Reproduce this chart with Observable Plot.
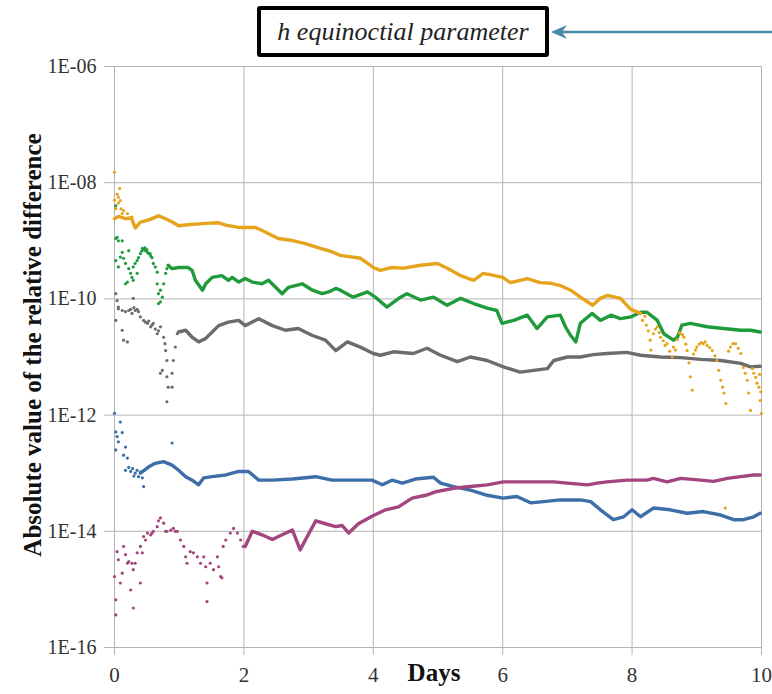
<!DOCTYPE html>
<html>
<head>
<meta charset="utf-8">
<script src="https://cdn.jsdelivr.net/npm/d3@7"></script>
<script src="https://cdn.jsdelivr.net/npm/@observablehq/plot@0.6"></script>
<style>
  body { margin: 0; background: #fff; }
  #wrap { position: relative; width: 772px; height: 694px; overflow: hidden; }
  #title {
    position: absolute; left: 257px; top: 6px; width: 292px; height: 51px;
    box-sizing: border-box; border: 4.5px solid #000; border-radius: 3px;
    background: #fff; color: #222;
    font: italic 26px "Liberation Serif", serif;
    display: flex; align-items: center; justify-content: center;
  }
  #pointer { position: absolute; left: 0; top: 0; }
</style>
</head>
<body>
<div id="wrap">
  <div id="chart"></div>
  <div id="title">h equinoctial parameter</div>
  <svg id="pointer" width="772" height="60"></svg>
</div>
<script>
// Each point is [day, log10 of the absolute relative difference].
// "Track" points trace the dense, steady part of a series; "scatter" points are the noisy samples.

const seriesNames = ["series 1", "series 2", "series 3", "series 4", "series 5"];
const seriesColors = ["#3d6ea8", "#a3457e", "#6c6c6c", "#1f9b3c", "#e6a41c"];

const dayTicks = [0, 2, 4, 6, 8, 10];
const decadeTicks = [1e-16, 1e-14, 1e-12, 1e-10, 1e-8, 1e-6];

const yellowTrack = [
  [0.00,-8.62],[0.06,-8.58],[0.17,-8.62],[0.26,-8.60],[0.32,-8.78],[0.40,-8.68],[0.53,-8.64],
  [0.68,-8.57],[0.79,-8.62],[0.90,-8.68],[0.99,-8.74],[1.17,-8.72],[1.41,-8.70],[1.61,-8.69],
  [1.72,-8.73],[1.92,-8.77],[2.18,-8.77],[2.33,-8.85],[2.53,-8.96],[2.72,-8.99],[2.95,-9.05],
  [3.18,-9.13],[3.34,-9.18],[3.49,-9.25],[3.80,-9.30],[3.93,-9.40],[4.00,-9.46],[4.11,-9.51],
  [4.27,-9.46],[4.47,-9.47],[4.73,-9.42],[4.99,-9.39],[5.16,-9.48],[5.35,-9.60],[5.55,-9.68],
  [5.70,-9.56],[5.84,-9.59],[6.00,-9.63],[6.12,-9.72],[6.27,-9.68],[6.38,-9.65],[6.58,-9.72],
  [6.74,-9.73],[6.89,-9.77],[7.05,-9.85],[7.20,-9.97],[7.39,-10.11],[7.51,-9.99],[7.62,-9.94],
  [7.82,-9.99],[7.98,-10.18],[8.13,-10.25]
];
const yellowScatter = [
  [0.00,-7.82],[0.00,-8.30],[0.02,-8.45],[0.04,-8.20],[0.06,-8.35],[0.08,-8.10],[0.10,-8.45],
  [0.06,-8.25],[0.09,-8.31],[0.04,-8.59],[0.12,-8.53],[0.20,-8.53],[0.27,-8.59],[0.14,-8.48],
  [8.16,-10.37],[8.20,-10.30],[8.22,-10.45],[8.25,-10.55],[8.28,-10.71],[8.29,-10.88],[8.33,-10.60],
  [8.36,-10.52],[8.39,-10.48],[8.42,-10.58],[8.44,-10.66],[8.48,-10.72],[8.51,-10.80],[8.54,-10.77],
  [8.58,-10.90],[8.62,-11.00],[8.64,-10.83],[8.67,-10.88],[8.70,-10.70],[8.73,-10.58],[8.75,-10.60],
  [8.78,-10.62],[8.80,-10.66],[8.83,-10.78],[8.85,-10.89],[8.88,-11.10],[8.90,-11.34],[8.93,-11.57],
  [8.95,-10.95],[8.98,-10.88],[9.00,-10.83],[9.04,-10.78],[9.07,-10.75],[9.10,-10.77],[9.13,-10.74],
  [9.16,-10.80],[9.20,-10.84],[9.24,-10.89],[9.28,-10.98],[9.31,-11.06],[9.34,-11.23],[9.37,-11.40],
  [9.40,-11.52],[9.42,-11.62],[9.45,-11.80],[9.49,-10.90],[9.52,-10.83],[9.56,-10.77],[9.60,-10.77],
  [9.64,-10.85],[9.68,-10.94],[9.72,-11.18],[9.75,-11.28],[9.78,-11.40],[9.80,-11.62],[9.83,-11.92],
  [9.86,-11.20],[9.88,-11.28],[9.91,-11.35],[9.93,-11.45],[9.96,-11.52],[9.98,-11.75],[10.00,-11.97],
  [9.97,-11.30],[9.99,-11.60],[9.44,-13.60]
];

const greenTrack = [
  [0.83,-9.42],[0.89,-9.48],[0.99,-9.46],[1.14,-9.46],[1.20,-9.51],[1.25,-9.68],[1.36,-9.85],
  [1.41,-9.74],[1.51,-9.63],[1.66,-9.60],[1.76,-9.68],[1.82,-9.63],[1.92,-9.71],[2.02,-9.65],
  [2.13,-9.71],[2.28,-9.74],[2.38,-9.68],[2.49,-9.80],[2.59,-9.91],[2.69,-9.80],[2.90,-9.74],
  [3.06,-9.85],[3.21,-9.91],[3.31,-9.88],[3.42,-9.82],[3.49,-9.85],[3.69,-9.97],[3.91,-9.88],
  [4.03,-9.97],[4.21,-10.14],[4.42,-9.97],[4.52,-9.91],[4.73,-10.02],[4.93,-9.97],[5.14,-10.11],
  [5.35,-9.99],[5.55,-10.08],[5.76,-10.16],[5.91,-10.20],[5.99,-10.42],[6.17,-10.37],[6.38,-10.28],
  [6.53,-10.51],[6.69,-10.31],[6.89,-10.28],[6.97,-10.48],[7.05,-10.63],[7.13,-10.74],[7.20,-10.42],
  [7.38,-10.25],[7.51,-10.37],[7.67,-10.28],[7.82,-10.34],[7.98,-10.31],[8.13,-10.23],[8.23,-10.23],
  [8.39,-10.37],[8.49,-10.60],[8.64,-10.71],[8.70,-10.66],[8.77,-10.45],[8.90,-10.42],[9.16,-10.48],
  [9.41,-10.51],[9.68,-10.54],[9.83,-10.54],[9.98,-10.57]
];
const greenScatter = [
  [0.02,-8.40],[0.02,-8.96],[0.04,-8.94],[0.02,-9.34],[0.06,-9.45],[0.09,-9.28],[0.12,-9.00],
  [0.17,-9.39],[0.17,-9.74],[0.20,-9.71],[0.22,-9.48],[0.22,-9.17],[0.25,-9.56],[0.27,-9.63],
  [0.29,-9.45],[0.29,-9.68],[0.32,-9.39],[0.35,-9.56],[0.35,-9.34],[0.37,-9.29],[0.40,-9.22],
  [0.43,-9.13],[0.45,-9.15],[0.48,-9.17],[0.51,-9.20],[0.53,-9.22],[0.56,-9.26],[0.58,-9.29],
  [0.60,-9.39],[0.63,-9.45],[0.66,-9.54],[0.66,-9.74],[0.68,-9.91],[0.68,-10.08],[0.71,-10.05],
  [0.71,-9.85],[0.74,-9.97],[0.76,-9.74],[0.79,-9.56],[0.81,-9.48],[0.06,-9.00],[0.12,-9.20],
  [0.14,-9.30],[0.42,-9.18],[0.47,-9.12],[0.50,-9.15],[0.55,-9.22]
];

const grayTrack = [
  [0.99,-10.57],[1.10,-10.54],[1.20,-10.66],[1.30,-10.74],[1.41,-10.68],[1.51,-10.57],[1.61,-10.46],
  [1.76,-10.40],[1.92,-10.37],[2.02,-10.46],[2.23,-10.34],[2.44,-10.46],[2.64,-10.54],[2.84,-10.51],
  [3.06,-10.63],[3.26,-10.71],[3.42,-10.89],[3.60,-10.74],[3.80,-10.83],[4.00,-10.94],[4.11,-10.97],
  [4.31,-10.91],[4.62,-10.94],[4.83,-10.85],[5.04,-10.97],[5.30,-11.08],[5.50,-11.00],[5.76,-11.06],
  [6.01,-11.17],[6.27,-11.26],[6.48,-11.23],[6.69,-11.20],[6.79,-11.06],[7.00,-11.00],[7.20,-11.00],
  [7.40,-10.96],[7.61,-10.94],[7.92,-10.92],[8.13,-10.97],[8.44,-11.00],[8.75,-11.01],[9.06,-11.04],
  [9.37,-11.06],[9.68,-11.11],[9.83,-11.17],[9.98,-11.16]
];
const grayScatter = [
  [0.02,-9.91],[0.04,-10.03],[0.06,-10.14],[0.02,-10.37],[0.06,-10.17],[0.12,-10.20],[0.17,-10.22],
  [0.22,-10.20],[0.27,-10.25],[0.32,-10.20],[0.37,-10.22],[0.40,-10.31],[0.45,-10.37],[0.51,-10.42],
  [0.56,-10.48],[0.60,-10.42],[0.66,-10.60],[0.71,-10.48],[0.76,-10.66],[0.12,-10.54],[0.14,-10.71],
  [0.20,-10.74],[0.29,-9.99],[0.71,-11.28],[0.79,-10.89],[0.81,-11.06],[0.81,-11.34],[0.83,-11.52],
  [0.89,-11.52],[0.81,-11.77],[0.89,-11.28],[0.91,-11.06],[0.94,-10.83],[0.97,-10.60],[0.74,-11.23],
  [0.78,-10.77],[0.25,-10.18],[0.30,-10.15],[0.35,-10.18],[0.48,-10.40],[0.53,-10.38],[0.58,-10.45],
  [0.63,-10.52],[0.68,-10.55]
];

const blueTrack = [
  [0.40,-13.00],[0.53,-12.89],[0.63,-12.83],[0.76,-12.80],[0.89,-12.86],[0.99,-12.95],[1.10,-13.06],
  [1.20,-13.12],[1.30,-13.20],[1.38,-13.08],[1.51,-13.06],[1.72,-13.03],[1.92,-12.97],[2.07,-12.97],
  [2.23,-13.12],[2.44,-13.12],[2.75,-13.10],[3.11,-13.06],[3.36,-13.12],[3.67,-13.12],[3.98,-13.12],
  [4.14,-13.20],[4.29,-13.12],[4.45,-13.17],[4.65,-13.10],[4.93,-13.07],[5.04,-13.17],[5.24,-13.23],
  [5.50,-13.29],[5.76,-13.38],[6.01,-13.43],[6.22,-13.40],[6.43,-13.51],[6.63,-13.49],[6.89,-13.46],
  [7.20,-13.46],[7.36,-13.49],[7.51,-13.63],[7.71,-13.80],[7.87,-13.75],[8.00,-13.63],[8.13,-13.75],
  [8.33,-13.60],[8.59,-13.63],[8.85,-13.69],[9.10,-13.66],[9.37,-13.72],[9.57,-13.80],[9.72,-13.80],
  [9.88,-13.75],[9.98,-13.69]
];
const blueScatter = [
  [0.00,-11.97],[0.02,-12.29],[0.04,-12.37],[0.06,-12.46],[0.02,-12.60],[0.09,-12.12],[0.12,-12.30],
  [0.14,-12.69],[0.17,-12.55],[0.20,-12.74],[0.17,-12.95],[0.22,-12.90],[0.25,-12.97],[0.28,-12.92],
  [0.32,-13.00],[0.37,-13.06],[0.40,-12.98],[0.43,-13.08],[0.45,-13.23],[0.30,-13.05],[0.35,-12.95],
  [0.89,-12.48]
];

const magentaTrack = [
  [2.02,-14.26],[2.13,-14.00],[2.28,-14.06],[2.44,-14.14],[2.59,-14.06],[2.75,-13.98],[2.87,-14.32],
  [2.95,-14.15],[3.11,-13.82],[3.26,-13.87],[3.42,-13.92],[3.52,-13.90],[3.62,-14.03],[3.77,-13.87],
  [3.98,-13.74],[4.19,-13.63],[4.39,-13.58],[4.60,-13.43],[4.81,-13.38],[4.96,-13.32],[5.24,-13.26],
  [5.50,-13.23],[5.76,-13.20],[6.01,-13.15],[6.27,-13.15],[6.53,-13.15],[6.79,-13.15],[7.00,-13.17],
  [7.31,-13.20],[7.46,-13.17],[7.61,-13.15],[7.92,-13.12],[8.23,-13.12],[8.33,-13.09],[8.54,-13.15],
  [8.75,-13.09],[9.06,-13.12],[9.26,-13.14],[9.47,-13.09],[9.68,-13.06],[9.88,-13.03],[9.98,-13.03]
];
const magentaScatter = [
  [0.00,-14.78],[0.02,-15.18],[0.02,-15.44],[0.04,-14.35],[0.06,-14.49],[0.09,-14.89],[0.12,-14.72],
  [0.14,-14.26],[0.17,-14.40],[0.20,-14.55],[0.22,-14.52],[0.25,-15.01],[0.27,-14.55],[0.29,-14.66],
  [0.29,-15.32],[0.32,-14.55],[0.35,-14.37],[0.40,-14.89],[0.40,-14.26],[0.43,-14.37],[0.45,-14.09],
  [0.48,-14.15],[0.51,-14.03],[0.56,-14.06],[0.58,-14.03],[0.60,-14.00],[0.66,-13.92],[0.68,-13.82],
  [0.71,-13.77],[0.76,-13.86],[0.79,-14.00],[0.81,-14.00],[0.87,-13.98],[0.91,-13.95],[0.94,-14.00],
  [0.97,-14.00],[1.02,-14.15],[1.07,-14.26],[1.10,-14.44],[1.12,-14.55],[1.17,-14.35],[1.22,-14.37],
  [1.28,-14.44],[1.33,-14.55],[1.38,-14.44],[1.41,-14.61],[1.43,-14.89],[1.43,-15.21],[1.48,-14.55],
  [1.53,-14.66],[1.59,-14.44],[1.61,-14.61],[1.64,-14.78],[1.66,-14.80],[1.68,-14.26],[1.72,-14.15],
  [1.79,-14.03],[1.84,-13.95],[1.90,-14.03],[1.95,-14.15],[1.99,-14.26]
];

const yLabel = "Absolute value of the relative difference";
const xLabel = "Days";

// Assemble tidy rows for Plot
const tracks = [blueTrack, magentaTrack, grayTrack, greenTrack, yellowTrack];
const scatters = [blueScatter, magentaScatter, grayScatter, greenScatter, yellowScatter];
const toRows = (lists) => lists.flatMap((pts, i) =>
  pts.map(([day, e]) => ({series: seriesNames[i], day, value: Math.pow(10, e)})));
const trackRows = toRows(tracks);
const scatterRows = toRows(scatters);

const decadeLabel = (d) => "1E-" + String(-Math.round(Math.log10(d))).padStart(2, "0");

const chart = Plot.plot({
  width: 772,
  height: 694,
  marginLeft: 114,
  marginRight: 11,
  marginTop: 66,
  marginBottom: 47,
  style: {fontFamily: "Liberation Serif", fontSize: "20px", background: "#fff", color: "#333"},
  x: {domain: [0, 10]},
  y: {type: "log", domain: [1e-16, 1e-6]},
  color: {type: "ordinal", domain: seriesNames, range: seriesColors},
  marks: [
    Plot.ruleX(dayTicks, {stroke: "#b4b4b4", strokeWidth: 1}),
    Plot.ruleY(decadeTicks, {stroke: "#b4b4b4", strokeWidth: 1}),
    Plot.axisX(dayTicks, {tickSize: 8, tickPadding: 12, stroke: "#b4b4b4", fill: "#333",
      fontSize: 21, label: null}),
    Plot.axisY(decadeTicks, {tickSize: 10, tickPadding: 8, tickFormat: decadeLabel,
      stroke: "#b4b4b4", fill: "#333", fontSize: 20, label: null}),
    Plot.line(trackRows, {x: "day", y: "value", z: "series", stroke: "series",
      strokeWidth: 3.4, strokeLinejoin: "round", strokeLinecap: "round"}),
    Plot.dot(scatterRows, {x: "day", y: "value", fill: "series", r: 1.6}),
    Plot.text([xLabel], {frameAnchor: "bottom", lineAnchor: "top", dx: -4, dy: 16,
      fontWeight: "bold", fontSize: 25, fill: "#111"}),
    Plot.text([yLabel], {frameAnchor: "left", textAnchor: "middle", lineAnchor: "middle",
      rotate: -90, dx: -82, dy: -12, fontWeight: "bold", fontSize: 25, fill: "#111"})
  ]
});
document.getElementById("chart").appendChild(chart);

// Pointer arrow leading into the title box
const pointer = d3.select("#pointer");
const arrowColor = "#4a87a8";
pointer.append("line")
  .attr("x1", 772).attr("y1", 32).attr("x2", 560).attr("y2", 32)
  .attr("stroke", arrowColor).attr("stroke-width", 2.6);
pointer.append("path")
  .attr("d", "M551,32 L567,25 L562,32 L567,39 Z")
  .attr("fill", arrowColor);
</script>
</body>
</html>
